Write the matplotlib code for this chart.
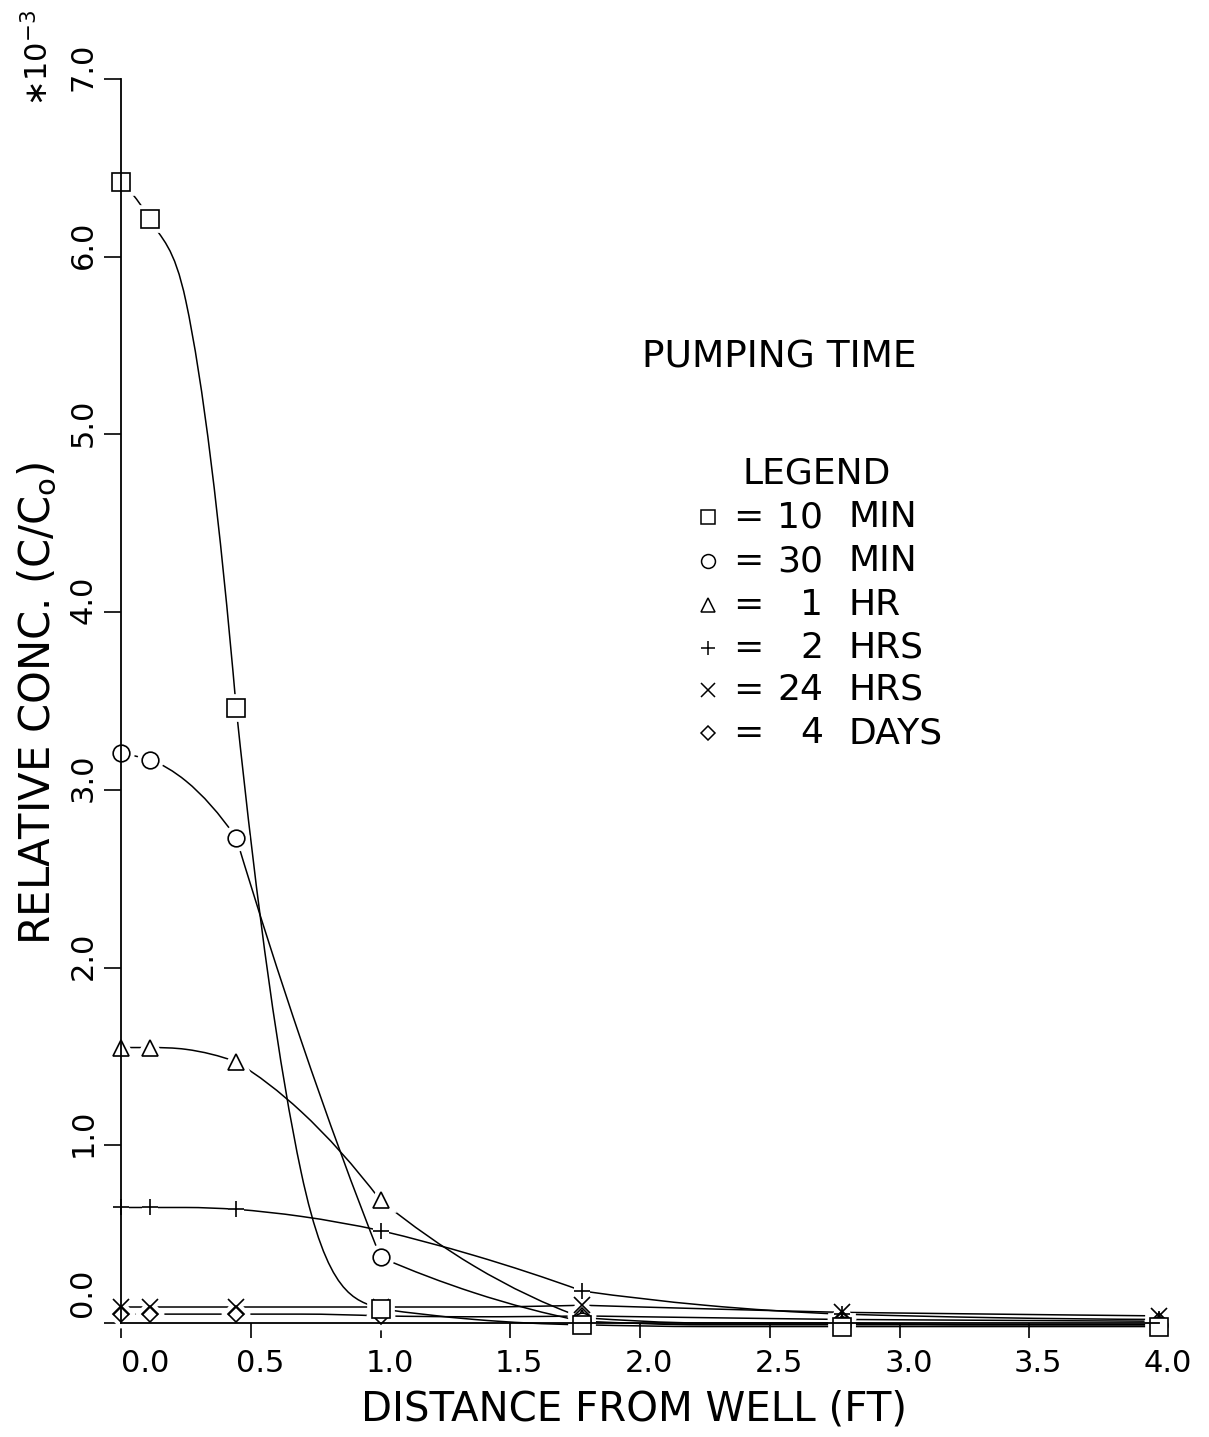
import numpy as np
import matplotlib
matplotlib.use("Agg")
import matplotlib.pyplot as plt
import matplotlib.transforms as mtransforms
from matplotlib.path import Path
from matplotlib.patches import PathPatch
from matplotlib.lines import Line2D

plt.rcParams['font.family'] = ['DejaVu Sans']

# distance from well (ft): grid nodes, symbols are plotted on every second node
dist = [0.0, 0.028, 0.111, 0.25, 0.444, 0.694, 1.0, 1.361, 1.778, 2.25, 2.778, 3.361, 4.0]

# relative concentration C/Co, in units of 1e-3
c_10min = [6.42, 6.38, 6.21, 5.75, 3.46, 0.85, 0.08, 0.02, -0.01, -0.02, -0.02, -0.02, -0.02]
c_30min = [3.21, 3.20, 3.17, 3.05, 2.73, 1.59, 0.37, 0.17, 0.01, -0.01, -0.01, -0.01, -0.01]
c_1hr = [1.55, 1.55, 1.55, 1.54, 1.47, 1.19, 0.69, 0.32, 0.03, 0.00, 0.00, -0.01, -0.01]
c_2hrs = [0.65, 0.65, 0.65, 0.65, 0.64, 0.60, 0.52, 0.38, 0.18, 0.10, 0.05, 0.03, 0.02]
c_24hrs = [0.09, 0.09, 0.09, 0.09, 0.09, 0.09, 0.09, 0.09, 0.10, 0.08, 0.06, 0.05, 0.04]
c_4days = [0.05, 0.05, 0.05, 0.05, 0.05, 0.05, 0.04, 0.035, 0.04, 0.03, 0.02, 0.015, 0.01]

legend_nums = ['10', '30', '1', '2', '24', '4']
legend_units = ['MIN', 'MIN', 'HR', 'HRS', 'HRS', 'DAYS']
markers = ['s', 'o', '^', '+', 'x', 'D']
msizes = [12.5, 12, 12, 12, 11, 8.5]

xticks = [0.0, 0.5, 1.0, 1.5, 2.0, 2.5, 3.0, 3.5, 4.0]
yticks = [0.0, 1.0, 2.0, 3.0, 4.0, 5.0, 6.0, 7.0]

W, H = 1209, 1437


def fx(px):
    return px / W


def fy(py):
    return 1 - py / H


def limit(m, s):
    # keep a tangent on the side of the segment slope and not too steep
    if m * s <= 0:
        return None
    return np.sign(m) * min(abs(m), 3 * abs(s))


def smooth_path(xs, ys, step=2):
    """cubic hermite curve through the points as bezier segments; on the
    symbol nodes the tangent may differ on each side (one-sided parabolas)"""
    x = np.asarray(xs, float)
    y = np.asarray(ys, float)
    n = len(x)
    h = np.diff(x)
    s = np.diff(y) / h

    def centre(i):
        if s[i - 1] * s[i] <= 0:
            return 0.0
        p = (h[i] * s[i - 1] + h[i - 1] * s[i]) / (h[i - 1] + h[i])
        return limit(p, s[i])

    mL = np.zeros(n)
    mR = np.zeros(n)
    for i in range(n):
        if 0 < i < n - 1:
            c = centre(i)
        if i % step or i == 0 or i == n - 1:
            if i == 0:
                mR[i] = s[0] - (s[1] - s[0]) * h[0] / (h[0] + h[1])
                mR[i] = limit(mR[i], s[0]) or 0.0
            elif i == n - 1:
                mL[i] = s[-1] + (s[-1] - s[-2]) * h[-1] / (h[-2] + h[-1])
                mL[i] = limit(mL[i], s[-1]) or 0.0
            else:
                mL[i] = mR[i] = c
            continue
        left = None
        if i >= 2:
            left = s[i - 1] + (s[i - 1] - s[i - 2]) * h[i - 1] / (h[i - 2] + h[i - 1])
            left = limit(left, s[i - 1])
        right = None
        if i <= n - 3:
            right = s[i] - (s[i + 1] - s[i]) * h[i] / (h[i] + h[i + 1])
            right = limit(right, s[i])
        mL[i] = c if left is None else left
        mR[i] = c if right is None else right

    verts = [(x[0], y[0])]
    codes = [Path.MOVETO]
    for i in range(n - 1):
        verts += [(x[i] + h[i] / 3, y[i] + h[i] / 3 * mR[i]),
                  (x[i + 1] - h[i] / 3, y[i + 1] - h[i] / 3 * mL[i + 1]),
                  (x[i + 1], y[i + 1])]
        codes += [Path.CURVE4] * 3
    return Path(verts, codes)


fig = plt.figure(figsize=(12.09, 14.37), dpi=100)
ax = fig.add_axes([fx(121), fy(1323), fx(1159) - fx(121), fy(79) - fy(1323)])
ax.set_xlim(0, 4.0)
ax.set_ylim(0, 7.0)

for sp in ['top', 'right']:
    ax.spines[sp].set_visible(False)
for sp in ['left', 'bottom']:
    ax.spines[sp].set_linewidth(1.3)
    ax.spines[sp].set_zorder(5)

all_series = [c_10min, c_30min, c_1hr, c_2hrs, c_24hrs, c_4days]

# curves first, then white gaps around the symbols, then the symbols
for vals in all_series:
    ax.add_patch(PathPatch(smooth_path(dist, vals), fill=False, ec='black',
                           lw=1.1, zorder=2, clip_on=False))

for vals, m, ms in zip(all_series, markers, msizes):
    ax.plot(dist, vals, ls='none', marker=m, ms=ms, markevery=2, mfc='white',
            mec='white', mew=7, zorder=2.5, clip_on=False)
for k, (vals, m, ms) in enumerate(zip(all_series[::-1], markers[::-1], msizes[::-1])):
    ax.plot(dist, vals, ls='none', marker=m, ms=ms, markevery=2, mfc='white',
            mec='black', mew=1.2, zorder=3 + k * 0.1, clip_on=False)

ax.set_xticks(xticks)
ax.set_xticklabels(['%.1f' % v for v in xticks])
ax.set_yticks(yticks)
ax.set_yticklabels(['%.1f' % v for v in yticks], rotation=90, va='center')
ax.tick_params(axis='x', direction='out', length=11, width=1.2, pad=8, labelsize=22)
ax.tick_params(axis='y', direction='out', length=12, width=1.2, pad=5, labelsize=22)

# shift tick labels a little away from the origin
for t in ax.xaxis.get_major_ticks():
    dx = 24 if t.get_loc() == 0 else 9
    t.label1.set_transform(t.label1.get_transform() +
                           mtransforms.ScaledTranslation(dx / 100, 0, fig.dpi_scale_trans))
for t in ax.yaxis.get_major_ticks():
    dy = 30 if t.get_loc() == 0 else 12
    t.label1.set_transform(t.label1.get_transform() +
                           mtransforms.ScaledTranslation(0, dy / 100, fig.dpi_scale_trans))

fig.text(fx(634), fy(1410), 'DISTANCE FROM WELL (FT)', fontsize=29,
         ha='center', va='center')
fig.text(fx(38), fy(703), r'RELATIVE CONC. (C/C$_\mathregular{o}$)', fontsize=30,
         rotation=90, ha='center', va='center')
fig.text(fx(38), fy(58), '\u221710$^{\\mathregular{-3}}$', fontsize=22,
         rotation=90, ha='center', va='center')

fig.text(fx(779), fy(358), 'PUMPING TIME', fontsize=27, ha='center', va='center')
fig.text(fx(817), fy(474), 'LEGEND', fontsize=26, ha='center', va='center')

rows_y = [517, 561, 605, 648, 690, 733]
for y, m, num, unit in zip(rows_y, markers, legend_nums, legend_units):
    fig.add_artist(Line2D([fx(708)], [fy(y)], marker=m, ms=10 if m != 'D' else 7,
                          mfc='none', mec='black', mew=1.1, ls='none',
                          transform=fig.transFigure))
    fig.text(fx(748), fy(y), '=', fontsize=26, ha='center', va='center')
    fig.text(fx(823), fy(y), num, fontsize=26, ha='right', va='center')
    fig.text(fx(848), fy(y), unit, fontsize=26, ha='left', va='center')

fig.savefig('out.png', dpi=100, facecolor='white')
